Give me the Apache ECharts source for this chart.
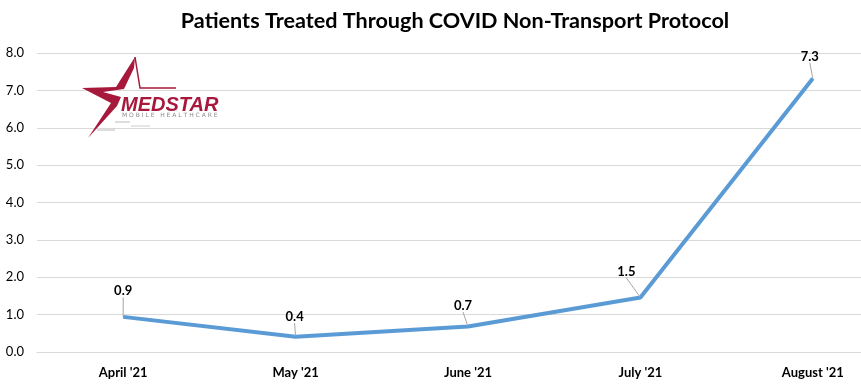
<!DOCTYPE html>
<html><head><meta charset="utf-8">
<script src="https://cdn.jsdelivr.net/npm/echarts@6/dist/echarts.min.js"></script>
<style>html,body{margin:0;padding:0;background:#fff;overflow:hidden;width:861px;height:387px}#c{width:899px;height:387px}</style>
</head><body><div id="c"></div>
<script>
const categories = ["April '21", "May '21", "June '21", "July '21", "August '21"];
const patients = [0.94, 0.41, 0.68, 1.46, 7.32];
const yTicks = [0, 1, 2, 3, 4, 5, 6, 7, 8];
const labelShift = [[0, -14], [-1, -8], [-5, -9], [-14, -14], [-3, -10]];

const chart = echarts.init(document.getElementById('c'));
const FONT = 'Lato, "Open Sans", sans-serif';
chart.setOption({
  animation: false,
  title: {
    text: 'Patients Treated Through COVID Non-Transport Protocol',
    left: 450, top: 5, textAlign: 'center',
    textStyle: { fontFamily: FONT, fontWeight: 'bold', fontSize: 21.6, color: '#000' }
  },
  grid: { left: 37, right: 0, top: 53, bottom: 35 },
  xAxis: {
    type: 'category', data: categories, boundaryGap: true,
    axisLine: { lineStyle: { color: '#d9d9d9' } },
    axisTick: { show: false },
    axisLabel: { fontFamily: FONT, fontWeight: 'bold', fontSize: 13, color: '#000', margin: 14 }
  },
  yAxis: {
    type: 'value', min: yTicks[0], max: yTicks[yTicks.length - 1], interval: 1,
    axisLine: { show: false }, axisTick: { show: false },
    splitLine: { lineStyle: { color: '#d9d9d9' } },
    axisLabel: { fontFamily: FONT, fontSize: 13, color: '#000', margin: 13,
      formatter: v => v.toFixed(1) }
  },
  series: [{
    type: 'line', data: patients, symbol: 'circle', symbolSize: 1, showSymbol: true,
    itemStyle: { color: '#5b9bd5' },
    lineStyle: { color: '#5b9bd5', width: 4 },
    label: { show: true, position: 'top', distance: 5,
      fontFamily: FONT, fontWeight: 'bold', fontSize: 13, color: '#000',
      formatter: p => p.value.toFixed(1) },
    labelLine: { show: true, lineStyle: { color: '#a6a6a6', width: 1 } },
    labelLayout: p => ({ dx: labelShift[p.dataIndex][0], dy: labelShift[p.dataIndex][1] })
  }],
  graphic: [
    { type: 'polygon', z: 10, shape: { points: [[135,57],[116,87],[82,88],[111,103],[88,138],[117,106],[121,97],[103,92],[124,89],[134,68]] },
      style: { fill: '#a6193c' } },
    { type: 'polyline', z: 10, shape: { points: [[135,57],[140,88],[176,88]] },
      style: { stroke: '#a6193c', lineWidth: 1.5, fill: null } },
    { type: 'text', z: 10, left: 121, top: 95,
      style: { text: 'MEDSTAR', fill: '#a6193c', font: 'italic 900 20px "Liberation Sans"' } },
    { type: 'text', z: 10, left: 122, top: 112,
      style: { text: 'M O B I L E   H E A L T H C A R E', fill: '#8c8c8c', font: '6px "DejaVu Sans"' } },
    { type: 'line', z: 10, shape: { x1: 115, y1: 122, x2: 130, y2: 122 }, style: { stroke: '#bbb', lineWidth: 1 } },
    { type: 'line', z: 10, shape: { x1: 131, y1: 126, x2: 150, y2: 126 }, style: { stroke: '#ccc', lineWidth: 1 } },
    { type: 'line', z: 10, shape: { x1: 97, y1: 130, x2: 115, y2: 130 }, style: { stroke: '#bbb', lineWidth: 1 } }
  ]
});
</script></body></html>
